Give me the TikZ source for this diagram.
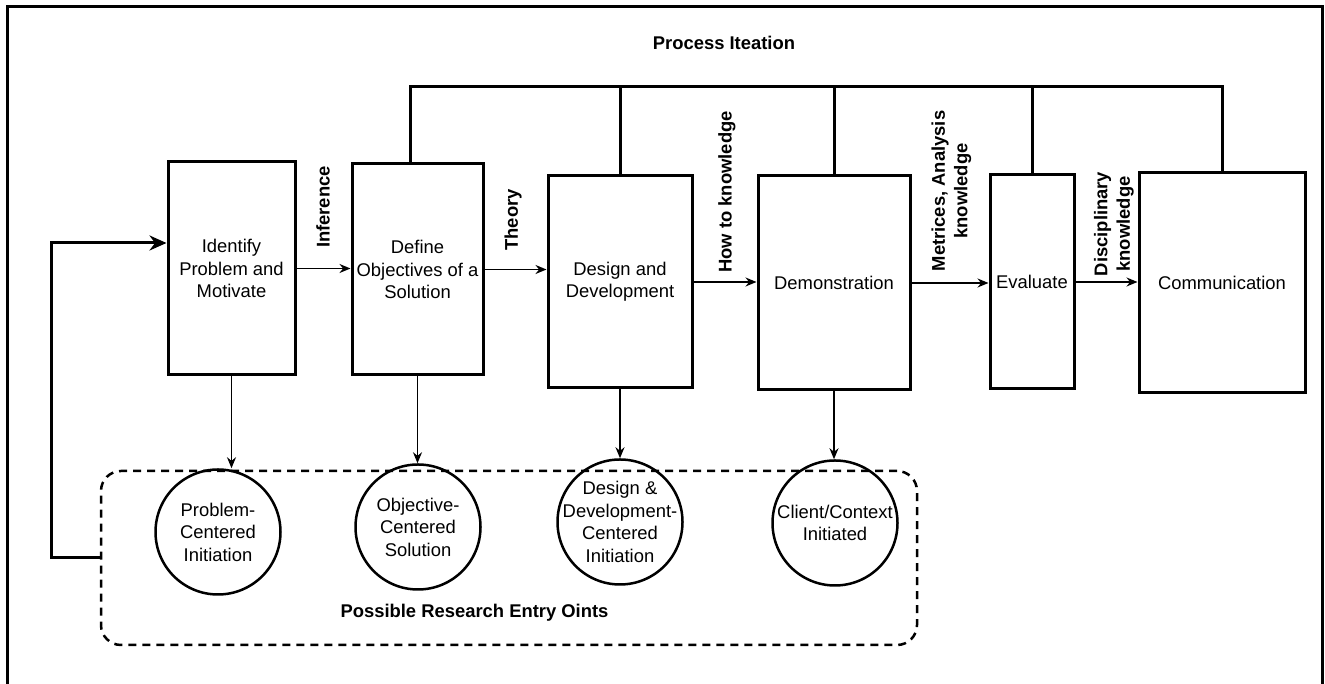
\documentclass[tikz,border=0pt]{standalone}
\usepackage{fontspec}
\setmainfont{Liberation Sans}
\usepackage{tikz}
\usetikzlibrary{arrows.meta}

\begin{document}
\begin{tikzpicture}[x=1pt,y=1pt,
    font=\fontsize{18.4}{22.5}\selectfont,
    stage/.style={draw,line width=3pt,align=center,inner sep=2pt},
    entrypt/.style={draw,circle,line width=2.5pt,minimum size=125pt,inner sep=-20pt,align=center},
    lbl/.style={rotate=90,align=center,font=\fontsize{18.4}{22.5}\selectfont\bfseries},
    flow/.style={-{Stealth[length=11pt,width=9pt]},line width=1.5pt},
    feed/.style={line width=3pt},
    backarrow/.style={-{Stealth[length=17pt,width=15pt]},line width=3pt}]
    \useasboundingbox (0,0) rectangle (1325,684);
    \draw[line width=3pt] (7,0) -- (7,677) -- (1322,677) -- (1322,0);

    % the six process steps
    \node[stage,minimum width=127pt,minimum height=213pt] (ident) at (231.5,415.5) {Identify\\Problem and\\Motivate};
    \node[stage,minimum width=131pt,minimum height=211pt] (define) at (417.5,414.5) {Define\\Objectives of a\\Solution};
    \node[stage,minimum width=144pt,minimum height=212pt] (design) at (620,402) {Design and\\Development};
    \node[stage,minimum width=152pt,minimum height=214pt] (demo) at (834,401) {Demonstration};
    \node[stage,minimum width=84pt,minimum height=214pt] (eval) at (1032,402) {Evaluate};
    \node[stage,minimum width=166pt,minimum height=220pt] (comm) at (1222,401) {Communication};

    \foreach \a/\b in {ident/define,define/design,design/demo,demo/eval,eval/comm}
    {
      \draw[flow] (\a.east) -- (\a.east -| \b.west);
    }
    \node[lbl] (inf) at (323,477) {Inference};
    \node[lbl] (thy) at (513,464) {Theory};
    \node[lbl] (howto) at (727,492) {How to knowledge};
    \node[lbl] (metr) at (951.5,493) {Metrices, Analysis\\knowledge};
    \node[lbl] (disc) at (1114,460) {Disciplinary\\knowledge};

    % iteration line on top
    \coordinate (iter) at (0,597);
    \draw[feed] ([xshift=-7.5pt]define.north) |- (comm.north |- iter) -- (comm.north);
    \foreach \n in {design,demo,eval}
    {
      \draw[feed] (\n.north) -- (\n.north |- iter);
    }
    \node[font=\fontsize{18.4}{22.5}\selectfont\bfseries] (itlbl) at (724,641) {Process Iteation};

    % entry points
    \node[draw,dashed,line width=2.5pt,dash pattern=on 8pt off 6pt,rounded corners=20pt,
      minimum width=816pt,minimum height=174pt] (entry) at (509,126) {};
    \node[entrypt] (prob) at (218,152) {Problem-\\Centered\\Initiation};
    \node[entrypt] (objc) at (418,157) {Objective-\\Centered\\Solution};
    \node[entrypt] (devc) at (620,162) {Design \&\\Development-\\Centered\\Initiation};
    \node[entrypt] (clnt) at (835,161) {Client/Context\\Initiated};
    \node[font=\fontsize{18.4}{22.5}\selectfont\bfseries] (entlbl) at (474.5,71) {Possible Research Entry Oints};

    \foreach \a/\b in {ident/prob,define/objc,design/devc,demo/clnt}
    {
      \draw[flow] (\a.south) -- (\a.south |- \b.north);
    }
    \coordinate (ret) at (51,126);
    \draw[backarrow] (entry.west) -- (ret) |- ([yshift=25.5pt]ident.west);
\end{tikzpicture}
\end{document}
